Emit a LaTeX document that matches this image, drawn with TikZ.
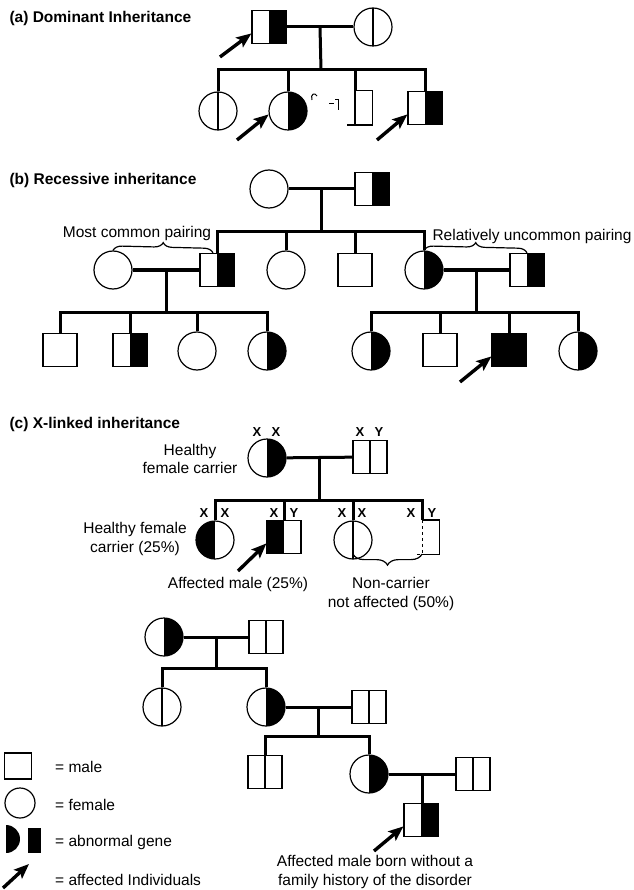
\documentclass[tikz,border=0pt]{standalone}
\usepackage{fontspec}
\setmainfont{Liberation Sans}
\usetikzlibrary{arrows.meta, decorations.pathreplacing, calc}

\begin{document}
\begin{tikzpicture}[x=1pt, y=-1pt,
			male/.style={draw, rectangle, line width=1.2pt, minimum width=34pt, minimum height=33pt, inner sep=0pt},
			female/.style={draw, circle, line width=1.2pt, minimum size=38pt, inner sep=0pt},
			rblack/.style={path picture={\fill[black] (path picture bounding box.north) rectangle (path picture bounding box.south east);}},
			lblack/.style={path picture={\fill[black] (path picture bounding box.north west) rectangle (path picture bounding box.south);}},
			halved/.style={path picture={\draw[line width=1.2pt] (path picture bounding box.north) -- (path picture bounding box.south);}},
			link/.style={line width=3pt},
			pointer/.style={line width=3.4pt, -{Stealth[length=15pt, width=12pt, inset=3pt]}},
			heading/.style={anchor=west, font=\fontsize{15.5}{18}\selectfont\bfseries},
			note/.style={align=center, inner sep=0pt, font=\fontsize{15.5}{18.5}\selectfont},
			chrom/.style={inner sep=0pt, font=\fontsize{13}{15}\selectfont\bfseries},
			brace/.style={decorate, decoration={brace, amplitude=9pt}, line width=1.2pt}
			]
			\path[use as bounding box, fill=white] (0,0) rectangle (633,890);
			
			% (a) Dominant inheritance
			\node[heading] (ta) at (6,18) {(a) Dominant Inheritance};
			\node[male, rblack] (a1) at (269,27) {};
			\node[female, halved] (a2) at (373,27) {};
			\node[female, halved] (ac1) at (218,111) {};
			\node[female, rblack] (ac2) at (288,111) {};
			\node[male, draw=none] (ac3) at (355,108) {};
			\node[male, rblack] (ac4) at (425,108) {};
			\coordinate (as) at (321,70);
			
			\draw[link] (a1) -- (a2) coordinate[midway] (am);
			\draw[link] (am) -- (as);
			\draw[link] (ac1.north) |- (as) -| (ac4.north);
			\draw[link] (ac2.north) -- (ac2.north |- as);
			\draw[link] (ac3.north) -- (ac3.north |- as);
			\draw[line width=1.2pt] (ac3.north) -| (ac3.south east) -- (ac3.south) -- ++(-8,0);
			\draw[line width=1.2pt] (ac3.north) -- (ac3.south);
			\draw[line width=1pt] (329,104) -- (334,104);
			\draw[line width=1pt] (335,100) -- (338,100) -- (338,110);
			\draw[line width=1pt] (312,100) .. controls (310,94) and (315,92) .. (317,96);
			
			\coordinate (pa1) at (220,57);
			\coordinate (pa2) at (237,140);
			\coordinate (pa3) at (377,140);
			\draw[pointer] (pa1) -- (a1.200);
			\draw[pointer] (pa2) -- (ac2.190);
			\draw[pointer] (pa3) -- (ac4.200);
			
			% (b) Recessive inheritance
			\node[heading] (tb) at (6,180) {(b) Recessive inheritance};
			\node[female] (b1) at (269,189) {};
			\node[male, rblack] (b2) at (372,189) {};
			\node[female] (b3) at (113,270) {};
			\node[male, rblack] (b4) at (217,270) {};
			\node[female] (b5) at (286,270) {};
			\node[male] (b6) at (355,270) {};
			\node[female, rblack] (b7) at (424,270) {};
			\node[male, rblack] (b8) at (527,270) {};
			\node[male] (b9) at (60,350) {};
			\node[male, rblack] (b10) at (130,350) {};
			\node[female] (b11) at (197,351) {};
			\node[female, rblack] (b12) at (267,351) {};
			\node[female, rblack] (b13) at (371,351) {};
			\node[male] (b14) at (440,350) {};
			\node[male, fill=black] (b15) at (509,350) {};
			\node[female, rblack] (b16) at (578,351) {};
			\coordinate (bs) at (320,232);
			\coordinate (bs1) at (163,312);
			\coordinate (bs2) at (476,312);
			
			\draw[link] (b1) -- (b2) coordinate[midway] (bm);
			\draw[link] (bm) -- (bm |- bs);
			\draw[link] (b4.north) |- (bs) -| (b7.north);
			\draw[link] (b5.north) -- (b5.north |- bs);
			\draw[link] (b6.north) -- (b6.north |- bs);
			\draw[link] (b3) -- (b4) coordinate[midway] (bm1);
			\draw[link] (bm1) -- (bm1 |- bs1);
			\draw[link] (b9.north) |- (bs1) -| (b12.north);
			\draw[link] (b10.north) -- (b10.north |- bs1);
			\draw[link] (b11.north) -- (b11.north |- bs1);
			\draw[link] (b7) -- (b8) coordinate[midway] (bm2);
			\draw[link] (bm2) -- (bm2 |- bs2);
			\draw[link] (b13.north) |- (bs2) -| (b16.north);
			\draw[link] (b14.north) -- (b14.north |- bs2);
			\draw[link] (b15.north) -- (b15.north |- bs2);
			
			\node[note] (mcp) at (137,233) {Most common pairing};
			\node[note] (rup) at (532,236) {Relatively uncommon pairing};
			\draw[brace] (b3.north) -- ([xshift=-4pt]b4.north);
			\draw[brace] (b7.north) -- (b8.north);
			
			\coordinate (pb1) at (460,382);
			\draw[pointer] (pb1) -- (b15.200);
			
			% (c) X-linked inheritance
			\node[heading] (tc) at (6,424) {(c) X-linked inheritance};
			\node[female, rblack] (c1) at (267,458) {};
			\node[male, halved] (c2) at (370,457) {};
			\node[female, lblack] (c3) at (215,540) {};
			\node[male, lblack] (c4) at (284,537) {};
			\node[female, halved] (c5) at (353,540) {};
			\node[male, draw=none] (c6) at (422,537) {};
			\coordinate (cs) at (320,500);
			
			\draw[link] (c1) -- (c2) coordinate[midway] (cm);
			\draw[link] (cm) -- (cm |- cs);
			\draw[link] (c3.north) |- (cs) -| (c6.north);
			\draw[link] (c4.north) -- (c4.north |- cs);
			\draw[link] (c5.north) -- (c5.north |- cs);
			\draw[line width=1.2pt] (c6.north) -| (c6.south east) -- (c6.south);
			\draw[line width=1pt, dashed] (c6.north) -- (c6.south) -- ++(-5,0);
			
			% Chromosomes
			\node[chrom] (x1) at (257,432) {X};
			\node[chrom] (x2) at (276,432) {X};
			\node[chrom] (x3) at (360,432) {X};
			\node[chrom] (y1) at (379,432) {Y};
			\node[chrom] (x4) at (204,513) {X};
			\node[chrom] (x5) at (225,513) {X};
			\node[chrom] (x6) at (274,513) {X};
			\node[chrom] (y2) at (294,513) {Y};
			\node[chrom] (x7) at (342,513) {X};
			\node[chrom] (x8) at (362,513) {X};
			\node[chrom] (x9) at (411,513) {X};
			\node[chrom] (y3) at (432,513) {Y};
			
			\node[note] (hfc) at (190,459) {Healthy\\female carrier};
			\node[note] (hfc2) at (135,539) {Healthy female\\carrier (25\%)};
			\node[note] (afm) at (238,584) {Affected male (25\%)};
			\node[note] (nca) at (391,594) {Non-carrier\\not affected (50\%)};
			\draw[brace, decoration={mirror, amplitude=11pt}] (c5.south |- c6.south) -- (c6.south);
			
			\coordinate (pc1) at (238,571);
			\draw[pointer] (pc1) -- (c4.200);
			
			% Carrier line without family history
			\node[female, rblack] (d1) at (164,637) {};
			\node[male, halved] (d2) at (266,637) {};
			\node[female, halved] (d3) at (162,707) {};
			\node[female, rblack] (d4) at (266,707) {};
			\node[male, halved] (d5) at (369,707) {};
			\node[male, halved] (d6) at (265,772) {};
			\node[female, rblack] (d7) at (369,774) {};
			\node[male, halved] (d8) at (473,774) {};
			\node[male, rblack] (d9) at (421,820) {};
			\coordinate (ds1) at (214,668);
			\coordinate (ds2) at (318,736);
			
			\draw[link] (d1) -- (d2) coordinate[midway] (dm1);
			\draw[link] (dm1) -- (dm1 |- ds1);
			\draw[link] (d3.north) |- (ds1) -| (d4.north);
			\draw[link] (d4) -- (d5) coordinate[midway] (dm2);
			\draw[link] (dm2) -- (dm2 |- ds2);
			\draw[link] (d6.north) |- (ds2) -| (d7.north);
			\draw[link] (d7) -- (d8) coordinate[midway] (dm3);
			\draw[link] (dm3) -- (dm3 |- d9.north);
			
			\coordinate (pd1) at (374,851);
			\draw[pointer] (pd1) -- (d9.200);
			\node[note] (amb) at (375,872) {Affected male born without a\\family history of the disorder};
			
			% Key
			\node[male, minimum width=27pt, minimum height=26pt] (km) at (18,766) {};
			\node[female, minimum size=30pt] (kf) at (20,803) {};
			\node[circle, minimum size=28pt, inner sep=0pt, rblack] (kg1) at (6,839) {};
			\node[rectangle, fill=black, minimum width=13pt, minimum height=25pt, inner sep=0pt] (kg2) at (34,840) {};
			\coordinate (kp1) at (3,888);
			\coordinate (kp2) at (29,864);
			\draw[pointer] (kp1) -- (kp2);
			\node[note, anchor=west] (kmt) at (55,767) {= male};
			\node[note, anchor=west] (kft) at (55,805) {= female};
			\node[note, anchor=west] (kgt) at (55,842) {= abnormal gene};
			\node[note, anchor=west] (kpt) at (55,880) {= affected Individuals};
		\end{tikzpicture}
\end{document}
